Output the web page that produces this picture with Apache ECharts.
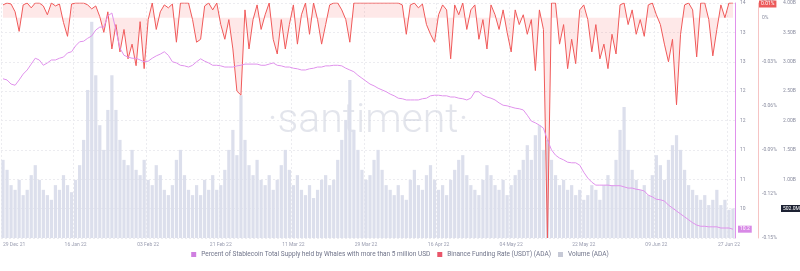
<!DOCTYPE html>
<html><head><meta charset="utf-8">
<script src="https://cdn.jsdelivr.net/npm/echarts@6/dist/echarts.min.js"></script>
<style>html,body{margin:0;padding:0;background:#fff}#c{width:800px;height:271px}</style>
</head><body><div id="c"></div>
<script>
const startDate = [2021, 11, 29];
const dayCount = 182;
const monthNames = ['Jan','Feb','Mar','Apr','May','Jun','Jul','Aug','Sep','Oct','Nov','Dec'];
const categories = [];
for (let i = 0; i < dayCount; i++) {
  const d = new Date(Date.UTC(startDate[0], startDate[1], startDate[2] + i));
  categories.push(String(d.getUTCDate()).padStart(2,'0') + ' ' + monthNames[d.getUTCMonth()] + ' ' + String(d.getUTCFullYear()).slice(2));
}

const seriesNames = [
  'Percent of Stablecoin Total Supply held by Whales with more than 5 million USD',
  'Binance Funding Rate (USDT) (ADA)',
  'Volume (ADA)'
];

const stablePct = [
12.71,12.69,12.62,12.60,12.69,12.79,12.86,12.96,13.06,13.03,
12.94,12.98,13.03,13.03,13.06,13.08,13.15,13.17,13.27,13.34,
13.35,13.40,13.44,13.54,13.59,13.59,13.78,13.83,13.54,13.23,
13.11,13.08,13.06,13.06,13.03,13.00,13.01,13.06,13.10,13.13,
13.17,13.11,13.00,12.98,12.94,12.93,12.91,12.94,13.00,13.05,
13.01,12.98,12.94,12.94,12.93,12.91,12.91,12.91,12.93,12.94,
12.96,12.96,12.96,12.96,12.94,12.94,12.96,12.98,12.94,12.93,
12.91,12.91,12.89,12.88,12.86,12.86,12.88,12.89,12.91,12.91,
12.93,12.93,12.94,12.94,12.93,12.89,12.86,12.83,12.77,12.72,
12.67,12.62,12.59,12.55,12.52,12.49,12.45,12.42,12.38,12.37,
12.35,12.35,12.35,12.35,12.37,12.38,12.42,12.43,12.43,12.42,
12.42,12.40,12.40,12.38,12.37,12.35,12.38,12.49,12.49,12.43,
12.40,12.38,12.35,12.30,12.26,12.25,12.23,12.21,12.20,12.18,
12.09,11.99,11.96,11.92,11.87,11.67,11.50,11.41,11.36,11.33,
11.29,11.28,11.28,11.24,11.12,11.02,10.95,10.90,10.90,10.90,
10.90,10.89,10.89,10.89,10.87,10.85,10.85,10.83,10.82,10.80,
10.73,10.70,10.66,10.65,10.63,10.56,10.51,10.46,10.41,10.36,
10.31,10.26,10.22,10.20,10.20,10.19,10.19,10.19,10.17,10.17,
10.17,10.15
];

const fundingRate = [
0.0087,0.01,0.0093,0.004,-0.0093,0.0087,0.01,0.0067,0.01,0.01,
0.008,0.002,0.01,0.008,0.0093,-0.0033,-0.0127,0.0093,0.01,0.01,
0.01,0.0087,0.006,0.008,0.0007,-0.01,0.004,-0.0213,-0.0047,-0.0233,
-0.008,-0.028,-0.018,-0.0327,-0.0027,-0.0347,-0.0013,0.01,-0.008,0.004,
0.0087,0.0067,0.0093,-0.0167,0.01,0.01,0.01,-0.0013,-0.0167,-0.0147,
0.008,0.01,0.0053,0.01,-0.0047,-0.0147,-0.0013,-0.0213,-0.05,-0.0527,
0.0053,-0.0213,-0.0013,0.0087,-0.008,0.002,0.01,-0.0147,-0.0247,-0.0013,
-0.0213,-0.0047,0.0087,-0.018,0.002,0.01,-0.0113,0.01,-0.0013,-0.018,
-0.0047,0.0087,0.01,0.01,0.0053,-0.0013,-0.0167,0.01,0.01,0.01,
0.01,0.01,0.01,0.01,0.01,0.01,0.01,0.01,0.01,0.0087,
-0.0113,0.0087,0.01,0.0067,0.0093,-0.0047,-0.0113,-0.0167,0.002,0.0087,
0.0053,-0.028,0.0087,0.002,0.01,-0.008,0.0053,0.0087,-0.0147,-0.0013,
-0.0213,0.0087,0.002,-0.008,0.0053,-0.01,-0.0233,0.0053,-0.0047,0.002,
-0.0113,-0.0013,-0.036,0.0053,-0.008,-0.15,0.01,0.01,-0.018,-0.0047,
-0.0347,-0.0147,-0.0313,0.0053,0.0087,-0.0013,-0.0233,-0.0047,-0.028,-0.018,
-0.0347,-0.0113,-0.0247,0.0087,0.01,-0.0047,0.0053,-0.0113,-0.0013,-0.0127,
0.0087,0.01,0.002,-0.0047,-0.018,-0.03,-0.0147,-0.0593,-0.0113,0.0087,
0.01,0.0053,-0.0267,0.01,0.01,-0.0013,-0.026,-0.008,0.0087,0,
0.01,0.01
];

const volumeB = [
1.33,1.16,0.90,0.82,0.99,0.73,0.82,1.07,1.24,0.99,
0.82,0.73,0.65,0.90,0.82,1.07,0.90,0.78,0.99,1.24,
1.67,2.52,3.68,2.77,1.92,1.50,2.18,2.77,2.18,1.67,
1.33,1.24,1.50,1.16,1.07,1.33,0.99,0.90,1.24,1.07,
0.82,0.73,0.90,1.33,1.50,1.07,0.82,0.73,0.90,0.73,
0.99,0.82,1.07,0.82,0.90,1.16,1.50,1.84,1.41,2.43,
1.67,1.24,1.07,1.33,0.99,0.90,1.07,0.82,0.99,1.24,
1.50,1.16,0.90,1.07,0.82,0.73,0.90,0.68,0.82,0.99,
1.07,0.90,0.99,1.33,1.67,2.01,2.69,1.84,1.50,1.16,
0.99,1.07,1.33,1.50,1.16,0.90,0.82,0.73,0.90,0.73,
0.65,0.99,1.16,0.90,0.82,1.07,1.24,0.99,0.82,0.90,
0.73,0.99,1.16,1.33,1.41,1.07,0.90,0.82,0.73,0.99,
1.24,1.07,0.90,0.82,0.99,0.73,0.90,1.07,1.16,1.33,
1.58,1.33,1.75,1.92,1.50,1.67,1.33,1.07,0.90,0.99,
0.82,0.90,0.73,0.82,0.65,0.73,0.90,0.82,0.65,0.90,
1.07,0.90,1.33,1.84,2.23,1.50,1.16,0.99,0.82,0.90,
0.73,1.07,1.41,1.24,0.99,1.33,1.58,1.75,1.50,1.16,
0.90,0.82,0.73,0.65,0.73,0.56,0.65,0.82,0.56,0.65,
0.48,0.502
];

const FONT = 'Roboto, "Noto Sans", sans-serif';
const labelEvery = 18;
const colViolet = '#e092ec';
const colRed = '#f05a5a';
const colVol = '#dcdfec';

const chart = echarts.init(document.getElementById('c'));
const watermark = { type: 'text', x: 368, y: 122, z: 0, silent: true,
  style: { text: '·santiment·', fontSize: 41, fontFamily: FONT, fontWeight: 300,
    fill: 'rgba(200,203,218,0.5)', align: 'center', verticalAlign: 'middle' } };
chart.setOption({
  animation: false,
  textStyle: { fontFamily: FONT },
  grid: { left: 0, right: 65, top: 3, bottom: 33 },
  legend: {
    bottom: 8, left: 'center', icon: 'rect', itemWidth: 5, itemHeight: 5, itemGap: 7,
    textStyle: { fontSize: 6.5, color: '#70748a', fontFamily: FONT },
    data: [
      { name: seriesNames[0], itemStyle: { color: '#cf7fe0' } },
      { name: seriesNames[1], itemStyle: { color: '#e9566a' } },
      { name: seriesNames[2], itemStyle: { color: '#c6c9d6' } }
    ]
  },
  graphic: [watermark],
  xAxis: {
    type: 'category', data: categories, boundaryGap: true,
    axisLine: { show: false }, axisTick: { show: false },
    axisLabel: { interval: (i) => i % labelEvery === 0, fontSize: 5, color: '#9a9db0', margin: 4, alignMinLabel: 'left' },
    splitLine: { show: true, interval: (i) => i % labelEvery === 0, lineStyle: { color: '#ececf0', type: [2, 2] } }
  },
  yAxis: [
    { type: 'value', position: 'right', min: 10, max: 14, interval: 0.5,
      axisLine: { show: true, lineStyle: { color: colViolet } }, axisTick: { show: false },
      axisLabel: { fontSize: 5, color: '#8a8da0', margin: 5, showMinLabel: false, formatter: (v) => String(Math.floor(v)) },
      splitLine: { show: true, lineStyle: { color: '#ececf0', type: [2, 2] } } },
    { type: 'value', position: 'right', offset: 23, min: -0.15, max: 0.01, interval: 0.03,
      axisLine: { show: true, lineStyle: { color: '#f6c4c4' } }, axisTick: { show: false }, splitLine: { show: false },
      axisLabel: { fontSize: 5, color: '#8a8da0', margin: 4, formatter: (v) => Math.abs(v) < 1e-9 ? '0%' : v.toFixed(2) + '%' } },
    { type: 'value', position: 'right', offset: 45, min: 0, max: 4, interval: 0.5,
      axisLine: { show: false }, axisTick: { show: false }, splitLine: { show: false },
      axisLabel: { fontSize: 5, color: '#8a8da0', margin: 3, showMinLabel: false, formatter: (v) => v.toFixed(2) + 'B' } }
  ],
  series: [
    { name: seriesNames[2], type: 'bar', yAxisIndex: 2, data: volumeB, barCategoryGap: '20%',
      itemStyle: { color: colVol }, z: 2 },
    { name: seriesNames[1], type: 'line', yAxisIndex: 1, data: fundingRate, showSymbol: false,
      lineStyle: { width: 1, color: colRed }, itemStyle: { color: colRed },
      areaStyle: { color: 'rgba(248,130,130,0.26)' }, z: 4 },
    { name: seriesNames[0], type: 'line', yAxisIndex: 0, data: stablePct, showSymbol: false,
      lineStyle: { width: 1, color: colViolet }, itemStyle: { color: colViolet }, z: 5 }
  ]
});

const last = dayCount - 1;
const yS = chart.convertToPixel({ yAxisIndex: 0 }, stablePct[last]);
const yF = Math.max(4, chart.convertToPixel({ yAxisIndex: 1 }, fundingRate[last]));
const yV = chart.convertToPixel({ yAxisIndex: 2 }, volumeB[last]);
function badge(x, y, text, bg) {
  return { type: 'text', x: x, y: y, z: 100, silent: true,
    style: { text: text, fontSize: 5, fontFamily: FONT, fill: '#fff', backgroundColor: bg,
      padding: [1, 2], verticalAlign: 'middle', align: 'left' } };
}
chart.setOption({ graphic: [
  watermark,
  badge(738, yS, stablePct[last].toFixed(1), '#d889e6'),
  badge(759, yF, fundingRate[last].toFixed(2) + '%', '#ec5a5a'),
  badge(781, yV, (volumeB[last] * 1000).toFixed(1) + 'M', '#1d2233')
] }, { replaceMerge: ['graphic'] });
</script></body></html>
